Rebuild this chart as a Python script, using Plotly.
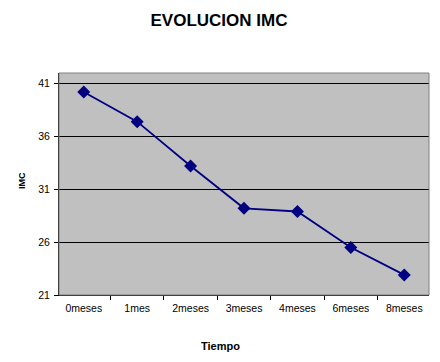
import plotly.graph_objects as go

categories = ["0meses", "1mes", "2meses", "3meses", "4meses", "6meses", "8meses"]
imc_values = [40.2, 37.4, 33.2, 29.2, 28.9, 25.5, 22.9]
y_ticks = [21, 26, 31, 36, 41]

# page body has an 8px margin; figure sits at (8, 8)
OFF = 8
W, H = 440 - OFF, 362 - OFF
L, R, T, B = 59 - OFF, 11, 73 - OFF, 67
pw, ph = W - L - R, H - T - B

fig = go.Figure()
fig.add_trace(go.Scatter(
    x=categories, y=imc_values, mode="lines+markers",
    line=dict(color="#000080", width=1.8),
    marker=dict(symbol="diamond", size=10, color="#000080"),
    showlegend=False,
))

font = "Arial, Liberation Sans, sans-serif"
fig.update_layout(
    width=W, height=H,
    margin=dict(l=L, r=R, t=T, b=B),
    paper_bgcolor="white",
    plot_bgcolor="#C0C0C0",
    title=dict(text="<b>EVOLUCION IMC</b>", x=(219 - OFF) / W, xanchor="center",
               y=1 - (20 - OFF) / H, yanchor="middle",
               font=dict(family=font, size=17, color="black")),
    xaxis=dict(type="category", tickson="boundaries", ticks="outside", ticklen=4,
               tickcolor="black", showline=True, linecolor="black", linewidth=1,
               showgrid=False, tickfont=dict(family=font, size=10.5, color="black"),
               ticklabelstandoff=3),
    yaxis=dict(range=[21, 42], tickvals=y_ticks, ticks="outside", ticklen=4,
               tickcolor="black", showline=True, linecolor="black", linewidth=1,
               showgrid=True, gridcolor="black", gridwidth=1, zeroline=False,
               tickfont=dict(family=font, size=10.5, color="black"),
               ticklabelstandoff=2),
    annotations=[
        dict(text="<b>Tiempo</b>", xref="paper", yref="paper",
             x=(220 - 59) / pw, y=(295 - 346) / ph, xanchor="center", yanchor="middle",
             showarrow=False, font=dict(family=font, size=11, color="black")),
        dict(text="<b>IMC</b>", xref="paper", yref="paper", textangle=-90,
             x=(22 - 59) / pw, y=(295 - 181) / ph, xanchor="center", yanchor="middle",
             showarrow=False, font=dict(family=font, size=9, color="black")),
    ],
    shapes=[dict(type="rect", xref="paper", yref="paper", x0=0, y0=0, x1=1, y1=1,
                 line=dict(color="#808080", width=1), layer="above")],
)

fig.write_html("out.html")
